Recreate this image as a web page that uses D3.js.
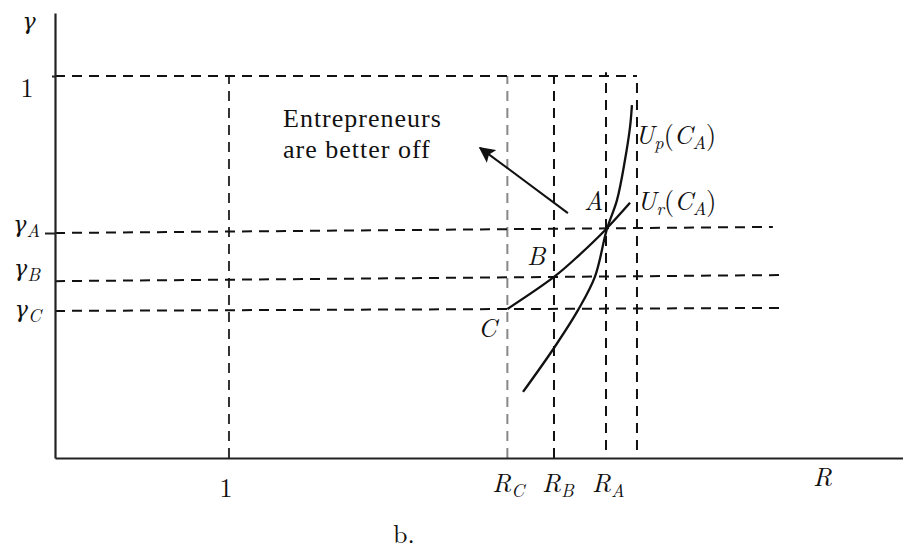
<!DOCTYPE html>
<html>
<head>
<meta charset="utf-8">
<script src="https://cdn.jsdelivr.net/npm/d3@7"></script>
<style>
  html, body { margin: 0; padding: 0; background: #fff; }
  svg { display: block; }
</style>
</head>
<body>
<div id="chart"></div>
<script>
// Reservation-return diagram: indifference curves in (R, gamma) space.

// Guide levels along the R axis (R = 1, R_C, R_B, R_A and the outer edge)
const rGuideValues = [1, 2.6, 2.868, 3.167, 3.345];
const rGuideBottom = [0, 0, 0, 0.021, 0.021];
const rGuideTop    = [1, 1, 1, 1.01, 1];
const rGuideColors = ["#333", "#888", "#111", "#111", "#111"];

// R axis labels: [main, subscript]
const rLabels = [["1", ""], ["R", "C"], ["R", "B"], ["R", "A"]];

// Guide levels along the gamma axis (1, gamma_A, gamma_B, gamma_C)
const gammaGuideLeft  = [1, 0.589, 0.463, 0.385];
const gammaGuideRight = [1, 0.605, 0.479, 0.393];
const gammaGuideEndR  = [3.345, 4.126, 4.172, 4.201];
const gammaLabels = [["1", ""], ["γ", "A"], ["γ", "B"], ["γ", "C"]];

// U_r(C_A): passes through C, B and A
const urCurve = [
  [2.600, 0.390], [2.868, 0.474], [3.010, 0.530],
  [3.167, 0.599], [3.305, 0.668]
];
// U_p(C_A): steeper curve through A
const upCurve = [
  [2.690, 0.173], [2.868, 0.288], [3.006, 0.387], [3.103, 0.474],
  [3.172, 0.599], [3.230, 0.675], [3.276, 0.780], [3.305, 0.866], [3.316, 0.924]
];

// Direction in which entrepreneurs gain: arrow from tail to head
const arrowTail = [2.948, 0.641];
const arrowHead = [2.443, 0.812];

const FONT = '"Latin Modern Roman", "Liberation Serif", serif';
const NOTE_FONT = '"Liberation Serif", serif';
const GREEK = '"DejaVu Serif", serif';
const FS = 26;
const W = 903, H = 551;
const x = d3.scaleLinear().domain([0, 4.874]).range([55, 903]);
const y = d3.scaleLinear().domain([0, 1.165]).range([458, 13]);

const svg = d3.select("#chart").append("svg")
  .attr("width", W).attr("height", H)
  .attr("viewBox", `0 0 ${W} ${H}`);

svg.append("rect").attr("width", W).attr("height", H).attr("fill", "#fff");

const defs = svg.append("defs");
defs.append("marker")
  .attr("id", "arrowhead")
  .attr("viewBox", "0 0 10 10")
  .attr("refX", 9).attr("refY", 5)
  .attr("markerWidth", 8).attr("markerHeight", 8)
  .attr("markerUnits", "strokeWidth")
  .attr("orient", "auto")
  .append("path")
  .attr("d", "M0,0 L10,5 L0,10 L2,5 Z")
  .attr("fill", "#111");

const dash = "10,7";

// Vertical dashed guides
svg.append("g").selectAll("line")
  .data(rGuideValues)
  .join("line")
  .attr("x1", d => x(d)).attr("x2", d => x(d))
  .attr("y1", (d, i) => y(rGuideBottom[i]))
  .attr("y2", (d, i) => y(rGuideTop[i]))
  .attr("stroke", (d, i) => rGuideColors[i])
  .attr("stroke-width", 2)
  .attr("stroke-dasharray", dash);

// Horizontal dashed guides
svg.append("g").selectAll("line")
  .data(gammaGuideLeft)
  .join("line")
  .attr("x1", x(0))
  .attr("x2", (d, i) => x(gammaGuideEndR[i]))
  .attr("y1", d => y(d))
  .attr("y2", (d, i) => y(gammaGuideRight[i]))
  .attr("stroke", "#111")
  .attr("stroke-width", 2)
  .attr("stroke-dasharray", dash);

// Axes
const xAxis = svg.append("g")
  .attr("transform", `translate(0,${y(0)})`)
  .call(d3.axisBottom(x).tickValues([]).tickSizeOuter(0));
const yAxis = svg.append("g")
  .attr("transform", `translate(${x(0)},0)`)
  .call(d3.axisLeft(y).tickValues([gammaGuideLeft[0], gammaGuideLeft[1]])
    .tickFormat("").tickSizeOuter(0));
yAxis.selectAll(".tick line").attr("x2", (d, i) => i === 0 ? -3 : -10);
[xAxis, yAxis].forEach(a => {
  a.select(".domain").attr("stroke", "#222").attr("stroke-width", 2.2);
  a.selectAll(".tick line").attr("stroke", "#222").attr("stroke-width", 2);
});

// Curves
const line = d3.line()
  .x(d => x(d[0])).y(d => y(d[1]))
  .curve(d3.curveCatmullRom.alpha(0.5));

svg.append("path").datum(urCurve)
  .attr("d", line).attr("fill", "none")
  .attr("stroke", "#111").attr("stroke-width", 2.3);
svg.append("path").datum(upCurve)
  .attr("d", line).attr("fill", "none")
  .attr("stroke", "#111").attr("stroke-width", 2.3);

// Arrow
svg.append("line")
  .attr("x1", x(arrowTail[0])).attr("y1", y(arrowTail[1]))
  .attr("x2", x(arrowHead[0])).attr("y2", y(arrowHead[1]))
  .attr("stroke", "#111").attr("stroke-width", 2)
  .attr("marker-end", "url(#arrowhead)");

// Math label helper: main symbol with optional subscripts
function mathLabel(g, px, py, parts, opts = {}) {
  const size = opts.size || FS;
  const t = g.append("text")
    .attr("x", px).attr("y", py)
    .style("font-family", FONT)
    .style("font-size", size + "px")
    .style("fill", "#111")
    .attr("text-anchor", opts.anchor || "start");
  parts.forEach(p => {
    const s = t.append("tspan").text(p.t)
      .style("font-style", p.roman ? "normal" : "italic");
    if (p.t === "γ") s.style("font-family", GREEK).style("font-size", (size * 0.85) + "px");
    if (p.sub) {
      s.style("font-size", (size * 0.7) + "px").attr("dy", p.dy != null ? p.dy : 5);
    } else if (p.dy != null) {
      s.attr("dy", p.dy);
    }
  });
  return t;
}

const labels = svg.append("g");

// gamma axis title and R axis title
mathLabel(labels, 29, 29, [{ t: "γ" }], { anchor: "middle" });
mathLabel(labels, 813, 486, [{ t: "R" }]);

// gamma-axis labels
const gammaLabelPos = [[27, 97], [40, 232], [40, 276], [41, 317]];
gammaLabels.forEach((lab, i) => {
  const parts = lab[1]
    ? [{ t: lab[0] }, { t: lab[1], sub: true, dy: 5 }]
    : [{ t: lab[0], roman: true }];
  mathLabel(labels, gammaLabelPos[i][0], gammaLabelPos[i][1], parts,
    { anchor: i === 0 ? "middle" : "end" });
});

// R-axis labels
const rLabelPos = [[226, 497, "middle"], [x(rGuideValues[1]) - 15, 492, "start"],
                   [x(rGuideValues[2]) - 12, 492, "start"], [x(rGuideValues[3]) - 14, 492, "start"]];
rLabels.forEach((lab, i) => {
  const parts = lab[1]
    ? [{ t: lab[0] }, { t: lab[1], sub: true, dy: 5 }]
    : [{ t: lab[0], roman: true }];
  mathLabel(labels, rLabelPos[i][0], rLabelPos[i][1], parts, { anchor: rLabelPos[i][2] });
});

// Point labels
mathLabel(labels, 584, 210, [{ t: "A" }]);
mathLabel(labels, 527, 265, [{ t: "B" }]);
mathLabel(labels, 478, 337, [{ t: "C" }]);

// Curve labels
mathLabel(labels, 635, 144, [
  { t: "U" }, { t: "p", sub: true, dy: 5 }, { t: "(", roman: true, dy: -5 },
  { t: "C" }, { t: "A", sub: true, dy: 5 }, { t: ")", roman: true, dy: -5 }
]);
mathLabel(labels, 637, 210, [
  { t: "U" }, { t: "r", sub: true, dy: 5 }, { t: "(", roman: true, dy: -5 },
  { t: "C" }, { t: "A", sub: true, dy: 5 }, { t: ")", roman: true, dy: -5 }
]);

// Annotation (two lines in one text block)
const noteLines = ["Entrepreneurs", "are better off"];
const note = labels.append("text").attr("x", 283).attr("y", 127)
  .style("font-family", NOTE_FONT).style("font-size", "26px")
  .style("letter-spacing", "1px").style("fill", "#111");
noteLines.forEach((s, i) => {
  note.append("tspan").attr("x", 283).attr("dy", i === 0 ? 0 : 31).text(s);
});

// Panel caption
labels.append("text").attr("x", 393).attr("y", 543)
  .style("font-family", FONT).style("font-size", FS + "px").style("fill", "#111")
  .text("b.");
</script>
</body>
</html>
